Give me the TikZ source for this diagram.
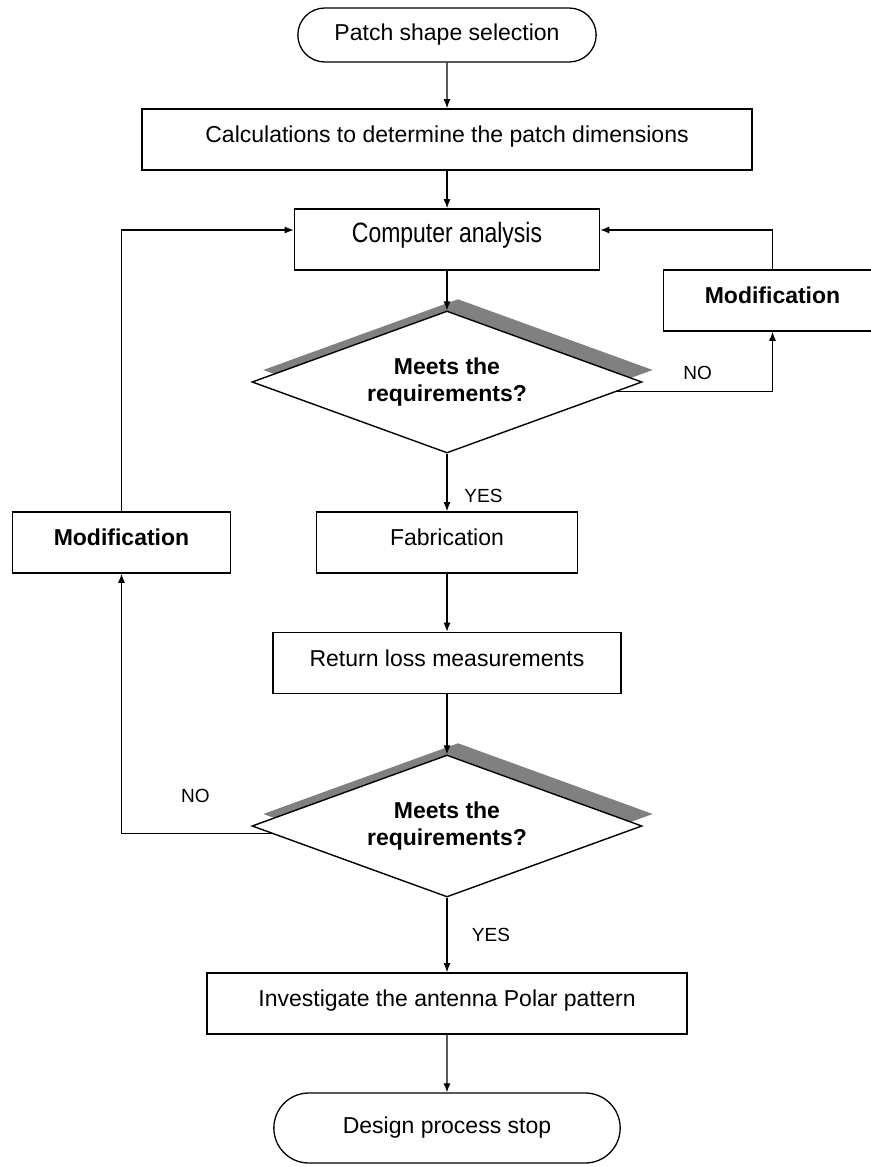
\documentclass[tikz,border=0pt]{standalone}
\usepackage{fontspec}
\setmainfont{Liberation Sans}
\newfontfamily\narrowsf[FakeStretch=0.82]{Liberation Sans}
\usetikzlibrary{shapes.geometric,shapes.misc,shadows,arrows.meta,calc}

\begin{document}
\begin{tikzpicture}[
    x=1pt, y=1pt,
    node distance=120pt,
    every node/.style={font=\fontsize{23}{27}\selectfont},
    terminal/.style={rounded rectangle, draw, line width=1.3pt, minimum width=305pt, minimum height=54pt},
    box/.style={rectangle, draw, line width=1.6pt, minimum height=61pt, text height=17pt, text depth=11pt},
    modbox/.style={box, minimum width=218pt, font=\fontsize{23}{27}\selectfont\bfseries},
    decision/.style={diamond, draw, line width=1.4pt, fill=white, aspect=2.75, inner sep=0pt, minimum width=390pt, minimum height=142pt, align=center, font=\fontsize{23}{27}\selectfont\bfseries, general shadow={fill=black!50, shadow xshift=11pt, shadow yshift=12pt}},
    tag/.style={font=\fontsize{19}{22}\selectfont},
    arrow/.style={-{Latex[length=9pt,width=7pt]}, line width=1.1pt}
]
    \useasboundingbox (0,0) rectangle (870,-1167);

    % Main column
    \node[terminal] (start) at (447,-35) {Patch shape selection};
    \node[box, minimum width=610pt, below of=start, yshift=15.5pt] (calc) {Calculations to determine the patch dimensions};
    \node[box, minimum width=305pt, below of=calc, yshift=20pt, font=\narrowsf\fontsize{28}{32}\selectfont] (comp) {Computer analysis};
    \node[decision, below of=comp, yshift=-22.5pt] (dec1) {Meets the\\requirements?};
    \node[box, minimum width=261pt, below of=dec1, yshift=-40.5pt] (fab) {Fabrication};
    \node[box, minimum width=348pt, below of=fab, yshift=-0.5pt] (ret) {Return loss measurements};
    \node[decision, below of=ret, yshift=-43pt] (dec2) {Meets the\\requirements?};
    \node[box, minimum width=480pt, below of=dec2, yshift=-57.5pt] (inv) {Investigate the antenna Polar pattern};
    \node[terminal, minimum width=353pt, minimum height=70pt, below of=inv, yshift=-4.5pt] (stop) {Design process stop};

    % Modification boxes
    \node[modbox, right of=comp, xshift=205.5pt, yshift=-61pt] (modR) {Modification};
    \node[modbox, left of=fab, xshift=-205.5pt] (modL) {Modification};

    % Exit points on the diamonds
    \coordinate (out1) at ($(dec1.east)!0.13!(dec1.south)$);
    \coordinate (out2) at ($(dec2.west)!0.11!(dec2.south)$);

    % Arrows
    \draw[arrow] (start) -- (calc);
    \draw[arrow] (calc) -- (comp);
    \draw[arrow] (comp) -- (dec1);
    \draw[arrow] (dec1) -- (fab);
    \draw[arrow] (fab) -- (ret);
    \draw[arrow] (ret) -- (dec2);
    \draw[arrow] (dec2) -- (inv);
    \draw[arrow] (inv) -- (stop);

    \draw[arrow] (out1) -| (modR.south);
    \draw[arrow] (modR.north) |- ([yshift=9.5pt]comp.east);
    \draw[arrow] (out2) -| (modL.south);
    \draw[arrow] (modL.north) |- ([yshift=9.5pt]comp.west);

    % Labels
    \node[tag] (no1) at ([xshift=55pt, yshift=9pt]dec1.east) {NO};
    \node[tag] (yes1) at ([xshift=36.5pt, yshift=-42pt]dec1.south) {YES};
    \node[tag] (no2) at ([xshift=-56pt, yshift=30pt]dec2.west) {NO};
    \node[tag] (yes2) at ([xshift=44pt, yshift=-37pt]dec2.south) {YES};
\end{tikzpicture}
\end{document}
